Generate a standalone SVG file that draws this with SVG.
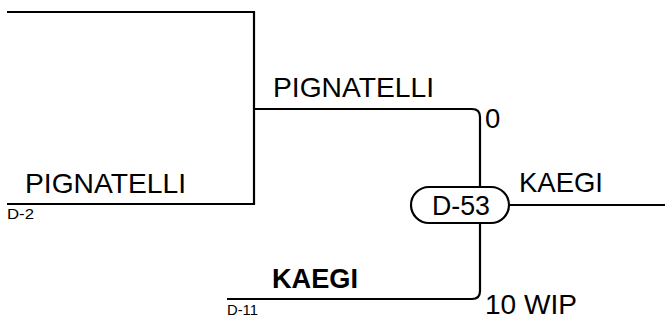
<svg xmlns="http://www.w3.org/2000/svg" width="665" height="322" viewBox="0 0 665 322">
<style>
.ln{fill:none;stroke:#000;stroke-width:2.2}
.t{font-family:"Liberation Sans",Arial,sans-serif;font-size:27.5px;fill:#000}
.b{font-weight:bold}
.s{font-family:"Liberation Sans",Arial,sans-serif;font-size:14.5px;fill:#000}
</style>
<rect width="665" height="322" fill="#fff"/>
<g id="connectors">
<path class="ln" d="M7,12 H254 V204 H7"/>
<path class="ln" d="M254,109 H472 Q480,109 480,117 V187"/>
<path class="ln" d="M480,223 V291 Q480,299 472,299 H227"/>
<path class="ln" d="M509,205 H665"/>
</g>
<g id="n-pignatelli-d2">
<text class="t" x="25" y="193" textLength="161" lengthAdjust="spacingAndGlyphs">PIGNATELLI</text>
<text class="s" x="7" y="219" textLength="27" lengthAdjust="spacingAndGlyphs">D-2</text>
</g>
<g id="n-pignatelli-top">
<text class="t" x="273" y="97" textLength="161" lengthAdjust="spacingAndGlyphs">PIGNATELLI</text>
<text class="t" x="485" y="128">0</text>
</g>
<g id="n-d53">
<rect x="411" y="187" width="98" height="36" rx="18" ry="18" fill="#fff" stroke="#000" stroke-width="2.2"/>
<text class="t" x="432" y="215" textLength="58" lengthAdjust="spacingAndGlyphs">D-53</text>
</g>
<g id="n-kaegi-right">
<text class="t" x="519" y="192" textLength="84" lengthAdjust="spacingAndGlyphs">KAEGI</text>
</g>
<g id="n-kaegi-d11">
<text class="t b" x="272" y="288" textLength="86" lengthAdjust="spacingAndGlyphs">KAEGI</text>
<text class="s" x="227" y="315" textLength="31" lengthAdjust="spacingAndGlyphs">D-11</text>
<text class="t" x="485" y="314" textLength="92" lengthAdjust="spacingAndGlyphs">10 WIP</text>
</g>
</svg>
